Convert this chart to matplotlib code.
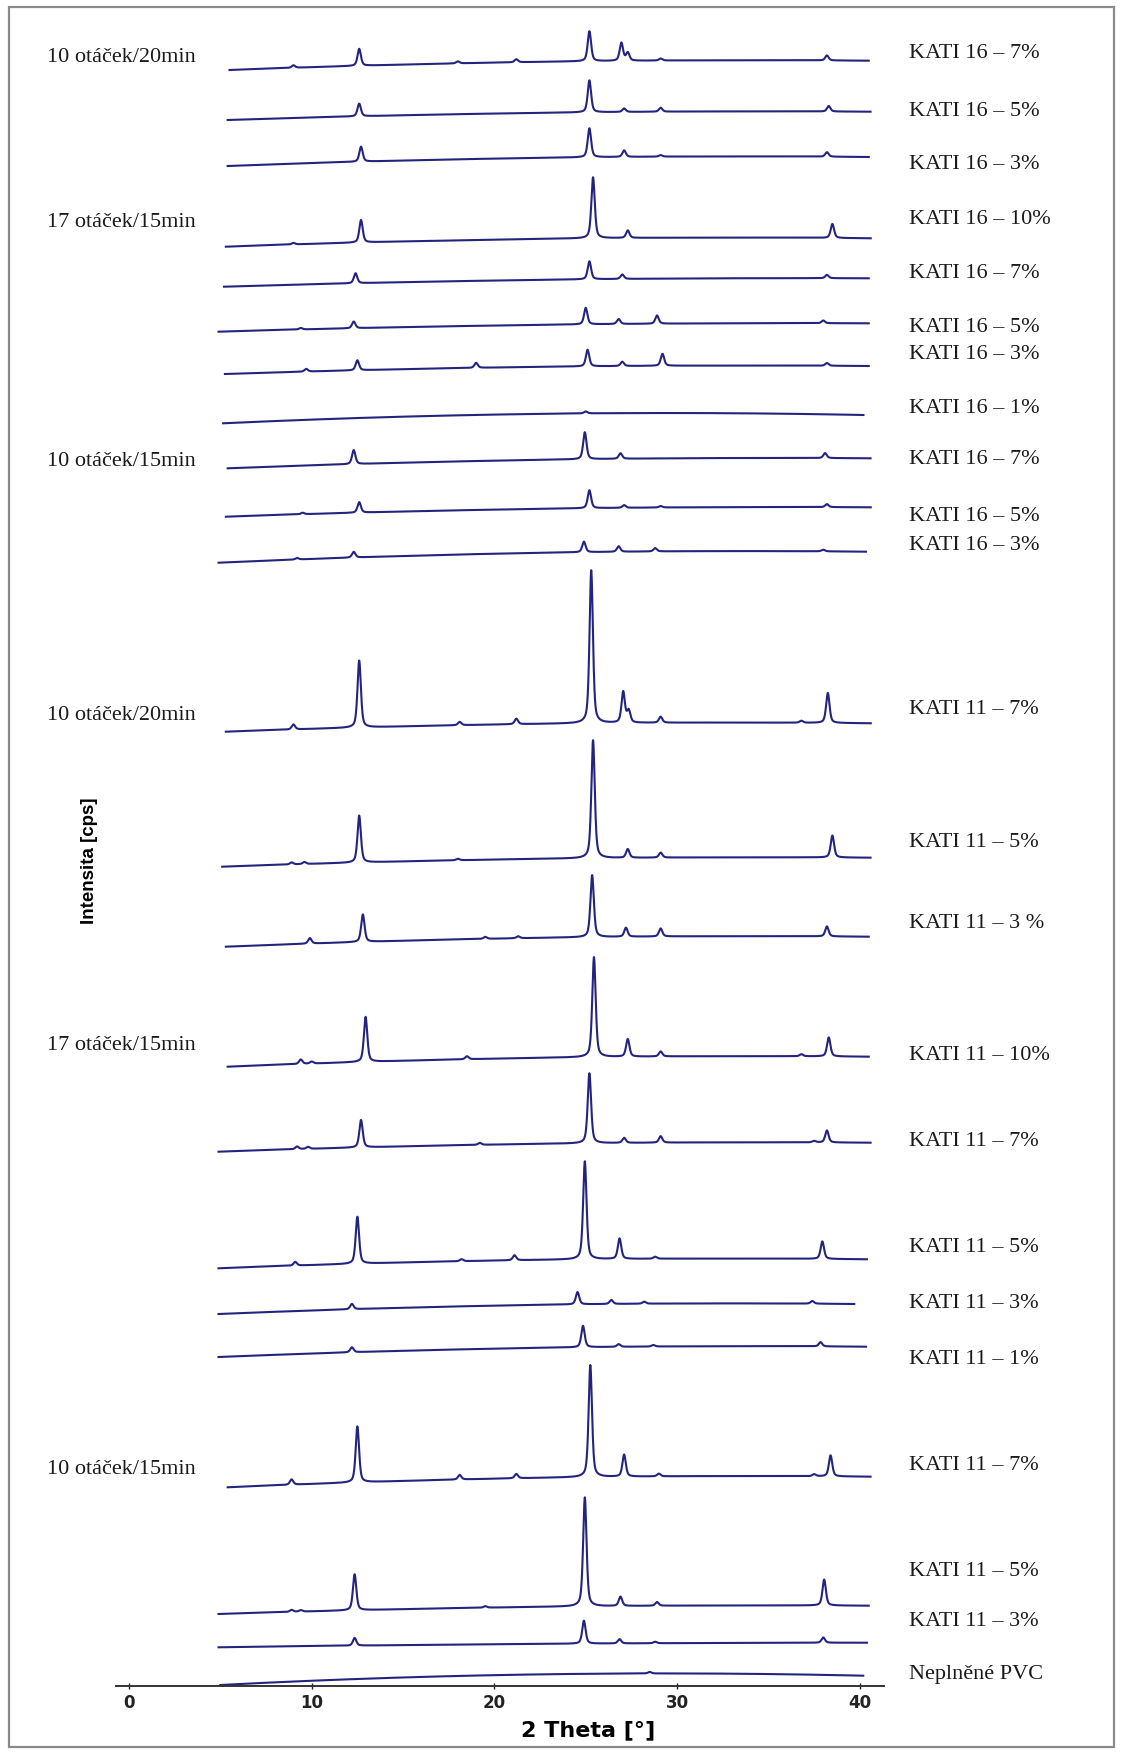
import numpy as np
import matplotlib.pyplot as plt
from matplotlib.patches import Rectangle

# XRD traces, intensity given as pixels above the 2-theta axis line
labels = ['KATI 16 – 7%', 'KATI 16 – 5%', 'KATI 16 – 3%', 'KATI 16 – 10%',
          'KATI 16 – 7%', 'KATI 16 – 5%', 'KATI 16 – 3%', 'KATI 16 – 1%',
          'KATI 16 – 7%', 'KATI 16 – 5%', 'KATI 16 – 3%',
          'KATI 11 – 7%', 'KATI 11 – 5%', 'KATI 11 – 3 %', 'KATI 11 – 10%',
          'KATI 11 – 7%', 'KATI 11 – 5%', 'KATI 11 – 3%', 'KATI 11 – 1%',
          'KATI 11 – 7%', 'KATI 11 – 5%', 'KATI 11 – 3%', 'Neplněné PVC']

x_start = [5.5, 5.4, 5.4, 5.3, 5.2, 4.9, 5.25, 5.15, 5.4, 5.3, 4.9,
           5.3, 5.1, 5.3, 5.4, 4.9, 4.9, 4.9, 4.9, 5.4, 4.9, 4.9, 5.0]
x_end = [40.5, 40.6, 40.5, 40.6, 40.5, 40.5, 40.5, 40.2, 40.6, 40.6, 40.35,
         40.6, 40.6, 40.5, 40.5, 40.6, 40.4, 39.7, 40.35, 40.6, 40.5, 40.4, 40.2]

# baseline at start, at 22 deg, at end
base_left = [1616, 1566, 1520, 1439.3, 1399.3, 1354.3, 1312, 1262.7, 1217.7, 1169.3, 1123.3,
             954.3, 819.3, 739.3, 619.3, 534.3, 417.7, 372, 329, 198.7, 72, 38.7, 1]
base_mid = [1624, 1573, 1528, 1447, 1406, 1361, 1319, 1272, 1226, 1177, 1133,
            962, 827, 748, 628, 542, 426, 381, 338, 208, 79, 42, 11.5]
base_right = [1625.3, 1574.3, 1529, 1447.7, 1407.7, 1362.7, 1320, 1271, 1227.7, 1178.7, 1134.3,
              962.7, 828.3, 749.3, 629.3, 543.3, 426.7, 382, 339.3, 209.3, 80.3, 43.3, 10.3]

# (2theta, height)
peaks = [
    [(9.0, 2.5), (12.6, 17), (18.0, 2), (21.2, 3), (25.2, 30), (26.95, 18), (27.3, 8), (29.1, 2), (38.2, 5)],
    [(12.6, 12.7), (25.2, 32), (27.1, 3.5), (29.1, 4), (38.3, 5.5)],
    [(12.7, 15), (25.2, 29), (27.1, 6.5), (29.1, 1.5), (38.2, 4.5)],
    [(9.0, 1.5), (12.7, 22.5), (25.4, 61), (27.3, 7.5), (38.5, 14)],
    [(12.4, 10), (25.2, 18), (27.0, 4.5), (38.2, 3.3)],
    [(9.4, 1.5), (12.3, 6.7), (25.0, 16.5), (26.8, 5), (28.9, 8.3), (38.0, 2.7)],
    [(9.7, 2.7), (12.5, 10), (19.0, 5), (25.1, 16.5), (27.0, 4.3), (29.2, 12), (38.2, 2.7)],
    [(25.0, 2)],
    [(12.3, 14), (24.95, 27), (26.9, 5.5), (38.1, 5)],
    [(9.5, 1.5), (12.6, 10.5), (25.2, 18), (27.1, 2.7), (29.1, 1.5), (38.2, 3)],
    [(9.2, 1.5), (12.3, 5.7), (24.9, 10.5), (26.8, 5.5), (28.8, 3.3), (38.0, 1.7)],
    [(9.0, 5), (12.6, 67), (18.1, 3.3), (21.2, 5.5), (25.3, 153), (27.05, 31), (27.35, 12),
     (29.1, 6), (36.8, 2), (38.25, 30)],
    [(8.9, 2), (9.6, 2), (12.6, 47), (18.0, 1.5), (25.4, 118), (27.3, 8.7), (29.1, 5), (38.5, 22)],
    [(9.9, 5.5), (12.8, 27.5), (19.5, 2), (21.3, 2), (25.35, 62), (27.2, 9), (29.1, 8), (38.2, 10)],
    [(9.4, 4.5), (10.0, 2), (12.95, 45), (18.5, 3), (25.45, 100), (27.3, 17.5), (29.1, 5),
     (36.8, 2), (38.3, 19)],
    [(9.2, 2.7), (9.8, 2), (12.7, 27.5), (19.2, 2), (25.2, 70), (27.1, 5), (29.1, 6.5),
     (37.5, 1.5), (38.2, 12)],
    [(9.1, 3.7), (12.5, 47), (18.2, 2), (21.1, 5), (24.95, 98), (26.85, 20.5), (28.8, 2), (37.95, 17.5)],
    [(12.2, 5.3), (24.55, 12.3), (26.4, 4), (28.2, 2), (37.4, 2.7)],
    [(12.2, 5), (24.85, 21.5), (26.8, 2.7), (28.7, 1.5), (37.85, 4.3)],
    [(8.9, 5.3), (12.5, 56), (18.1, 4.5), (21.2, 4.3), (25.25, 112), (27.1, 22), (29.0, 2.7),
     (37.5, 2), (38.4, 21)],
    [(8.9, 2), (9.4, 1.5), (12.35, 36), (19.5, 1.5), (24.95, 109), (26.9, 9.3), (28.9, 3.7), (38.05, 26)],
    [(12.35, 7.7), (24.9, 23), (26.85, 4.3), (28.8, 1.5), (38.0, 5.3)],
    [(28.5, 1.5)],
]

groups = ['10 otáček/20min', '17 otáček/15min', '10 otáček/15min',
          '10 otáček/20min', '17 otáček/15min', '10 otáček/15min']

# label placement (same units as the traces)
label_y = [1632.3, 1574.1, 1521.5, 1466.7, 1413, 1358.2, 1331.3, 1277.6, 1226.2, 1169.1, 1140,
           977, 843.5, 762, 630, 545, 439, 383, 327, 220, 115, 64, 11]
group_y = [1628, 1463.4, 1225, 970, 640, 216]

W, H = 1121, 1754
px0, px_per = 129, 18.27      # pixel of 2theta = 0, pixels per degree
axis_row = 1686

fig = plt.figure(figsize=(W / 100, H / 100), dpi=100)
fig.patches.append(Rectangle((9 / W, 7 / H), 1105 / W, 1740 / H, transform=fig.transFigure,
                             fill=False, edgecolor='#8a8a8a', lw=1.6))
ax = fig.add_axes([0, 0, 1, 1])
ax.patch.set_alpha(0)
ax.set_xlim(-px0 / px_per, (W - px0) / px_per)
ax.set_ylim(-(H - axis_row), axis_row)

line_col = '#24247f'
for i in range(len(labels)):
    x = np.arange(x_start[i], x_end[i], 0.01)
    # smooth baseline through the three read points
    coef = np.polyfit([x_start[i], 22, x_end[i]], [base_left[i], base_mid[i], base_right[i]], 2)
    y = np.polyval(coef, x)
    for c, h in peaks[i]:
        w = 0.11
        d = (x - c) / w
        y = y + h * (0.5 / (1 + d ** 2) + 0.5 * np.exp(-np.log(2) * d ** 2))
    ax.plot(x, y, color=line_col, lw=1.5, solid_joinstyle='round')

serif = ['Liberation Serif', 'DejaVu Serif']
for lab, yy in zip(labels, label_y):
    ax.text((909 - px0) / px_per, yy, lab, fontsize=16, family=serif, va='center', ha='left',
            color='#1a1a1a')
for g, yy in zip(groups, group_y):
    ax.text((47 - px0) / px_per, yy, g, fontsize=16, family=serif, va='center', ha='left',
            color='#1a1a1a')

ax.text((89 - px0) / px_per, axis_row - 861, 'Intensita [cps]', rotation=90, fontsize=13.5,
        fontweight='bold', family=['Liberation Sans', 'DejaVu Sans'], va='center', ha='center')
ax.text((588 - px0) / px_per, -44, '2 Theta [°]', fontsize=16, fontweight='bold',
        family='DejaVu Sans', va='center', ha='center')

for s in ['top', 'right', 'left']:
    ax.spines[s].set_visible(False)
ax.spines['bottom'].set_position(('data', 0))
ax.spines['bottom'].set_bounds(-0.7, 41.3)
ax.spines['bottom'].set_color('#333333')
ax.spines['bottom'].set_linewidth(1.4)
ax.set_yticks([])
ax.set_xticks([0, 10, 20, 30, 40])
ax.tick_params(axis='x', direction='inout', length=5, width=1, pad=3.5, labelsize=12,
               colors='#222222')
for t in ax.get_xticklabels():
    t.set_fontweight('bold')

fig.savefig('out.png', dpi=100)
